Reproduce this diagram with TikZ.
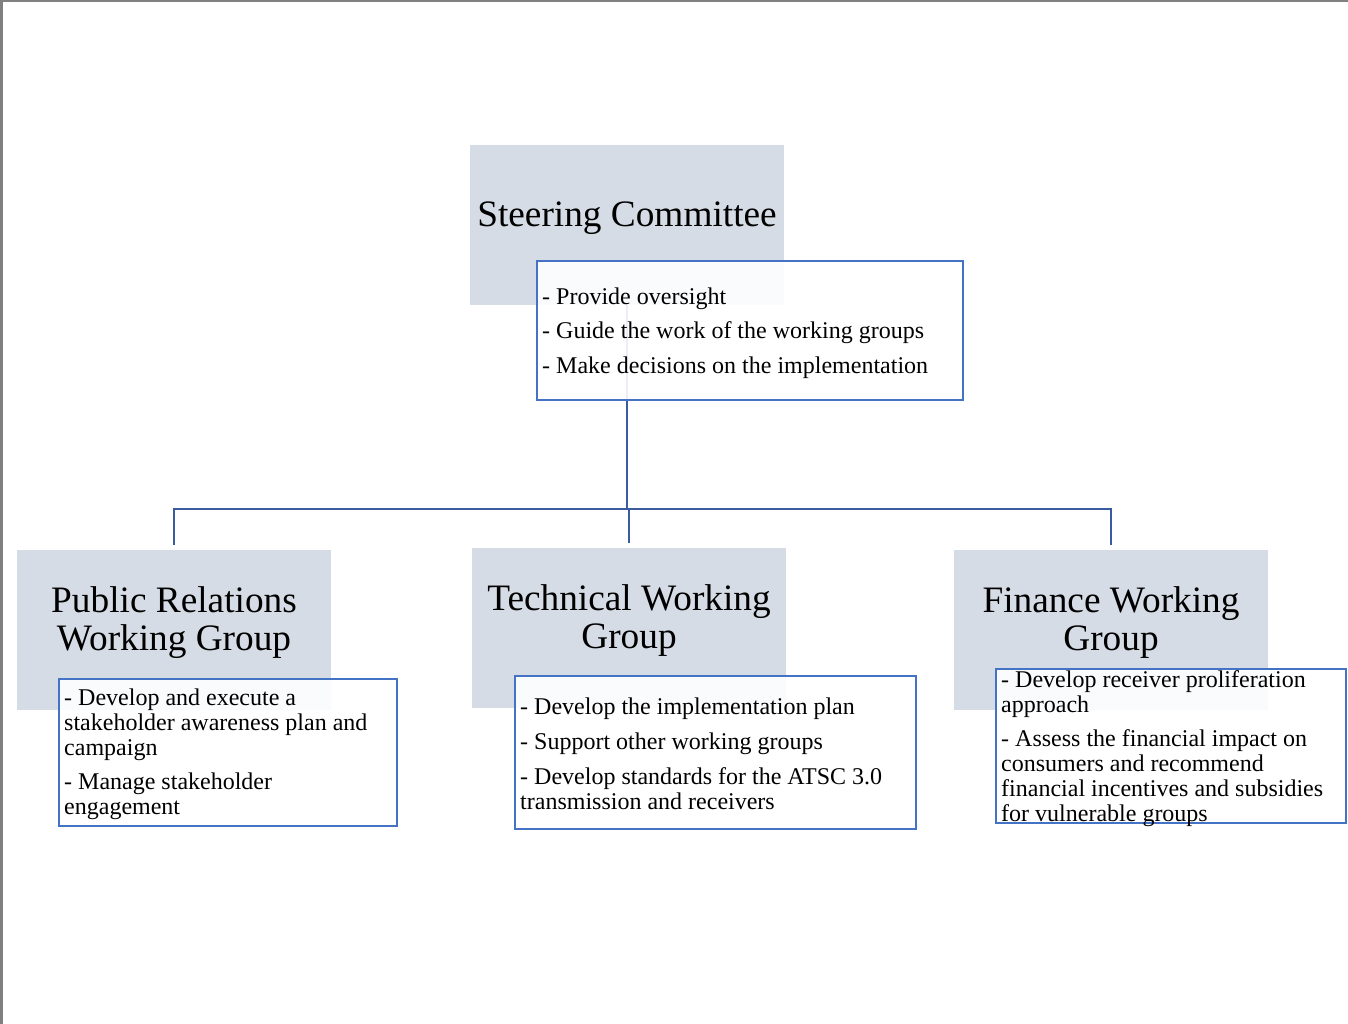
\documentclass[tikz,border=0pt]{standalone}
\usepackage{fontspec}
\setmainfont{Liberation Serif}
\definecolor{greyfill}{HTML}{D6DCE5}
\definecolor{boxblue}{HTML}{4472C4}
\definecolor{connblue}{HTML}{3A5C9E}
\definecolor{framegrey}{HTML}{808080}
\begin{document}
\begin{tikzpicture}[x=1pt,y=-1pt,
  greybox/.style={fill=greyfill, draw=none, minimum width=314pt, minimum height=160pt, inner sep=0pt, outer sep=0pt},
  textbox/.style={draw=boxblue, line width=2.4pt, fill=white, fill opacity=0.9, inner sep=0pt, outer sep=0pt},
  titletext/.style={font=\fontsize{37.3}{38}\selectfont, align=center, inner sep=0pt},
  bodytext/.style={font=\fontsize{24}{25}\selectfont, align=left, inner sep=0pt, anchor=west},
  conn/.style={draw=connblue, line width=2.8pt}]
\useasboundingbox (0,0) rectangle (1348,1024);
\fill[white] (0,0) rectangle (1348,1024);
\draw[framegrey, line width=2.5pt] (1.25,0) -- (1.25,1024);
\draw[framegrey, line width=2pt] (0,1) -- (1348,1);

% grey boxes
\node[greybox] (scg) at (627,225) {};
\node[greybox] (prg) at (174,630) {};
\node[greybox] (twg) at (629,628) {};
\node[greybox] (fwg) at (1111,630) {};

% connectors
\coordinate (hub) at (627,509);
\coordinate (prtop) at ([yshift=5pt]prg.north);
\coordinate (twtop) at ([yshift=5pt]twg.north);
\coordinate (fwtop) at ([yshift=5pt]fwg.north);
\draw[conn] (scg.south) -- (hub);
\draw[conn] (prtop) |- (hub) -| (fwtop);
\draw[conn] (twtop) -- (twtop |- hub);

% text boxes
\node[textbox, minimum width=426pt, minimum height=139pt] (sct) at (750,330.5) {};
\node[textbox, minimum width=338pt, minimum height=147pt] (prt) at (228,752.5) {};
\node[textbox, minimum width=401pt, minimum height=153pt] (twt) at (715.5,752.5) {};
\node[textbox, minimum width=350pt, minimum height=154pt] (fwt) at (1171,746) {};

% titles
\node[titletext, anchor=base] (sctitle) at (627,227) {Steering Committee};
\node[titletext] (prtitle) at (174,622.5) {Public Relations\\Working Group};
\node[titletext] (twtitle) at (629,620.5) {Technical Working\\Group};
\node[titletext] (fwtitle) at (1111,622.5) {Finance Working\\Group};

% body texts
\node[bodytext] (sctx) at (542,333) {- Provide oversight\\[9.5pt]- Guide the work of the working groups\\[9.5pt]- Make decisions on the implementation};
\node[bodytext] (prtx) at (64,754.5) {- Develop and execute a\\stakeholder awareness plan and\\campaign\\[9pt]- Manage stakeholder\\engagement};
\node[bodytext] (twtx) at (520,753.5) {- Develop the implementation plan\\[10pt]- Support other working groups\\[10pt]- Develop standards for the ATSC 3.0\\transmission and receivers};
\node[bodytext] (fwtx) at (1001,748.5) {- Develop receiver proliferation\\approach\\[9pt]- Assess the financial impact on\\consumers and recommend\\financial incentives and subsidies\\for vulnerable groups};
\end{tikzpicture}
\end{document}
